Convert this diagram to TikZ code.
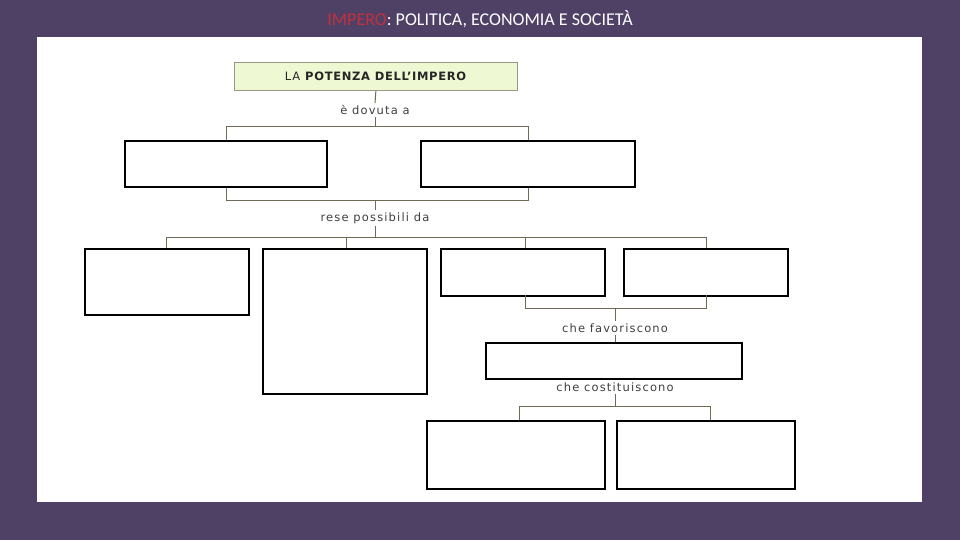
\documentclass[tikz,border=0pt]{standalone}
\usepackage{fontspec}
\setmainfont{DejaVu Sans}
\newfontfamily\spaced[LetterSpace=10]{DejaVu Sans}
\newfontfamily\spacedb[LetterSpace=6]{DejaVu Sans}
\newfontfamily\titlefont{Carlito}
\definecolor{bgpurple}{HTML}{4F4066}
\definecolor{titlered}{HTML}{C0313D}
\definecolor{boxgreen}{HTML}{EEF8D2}
\definecolor{linecol}{HTML}{6E6A55}
\begin{document}
\begin{tikzpicture}[x=1pt,y=-1pt,
  blank/.style={draw=black,line width=2pt,fill=white,anchor=north west,inner sep=0pt},
  conn/.style={draw=linecol,line width=1pt},
  lbl/.style={font=\spaced\fontsize{11.5}{13}\selectfont,text=black!75,inner sep=2pt}]
\useasboundingbox (0,0) rectangle (960,540);
\fill[bgpurple] (0,0) rectangle (960,540);
\fill[white] (37,37) rectangle (922,502);
\node[font=\titlefont\fontsize{18}{20}\selectfont,text=white] (title) at (480,19) {\textcolor{titlered}{IMPERO}: POLITICA, ECONOMIA E SOCIETÀ};
% top box
\node[draw=linecol!70,line width=0.8pt,fill=boxgreen,anchor=north west,minimum width=283pt,minimum height=28pt,inner sep=0pt,font=\spacedb\fontsize{11.5}{13}\selectfont,text=black!85] (top) at (234,62) {LA \textbf{POTENZA DELL’IMPERO}};
\node[lbl] (l1) at (375,110) {è dovuta a};
\coordinate (j1) at (375,127);
\node[blank,minimum width=202pt,minimum height=46pt] (A) at (124,140) {};
\node[blank,minimum width=214pt,minimum height=46pt] (B) at (420,140) {};
\draw[conn] (top.south) -- (l1.north);
\draw[conn] (l1.south) -- (j1);
\draw[conn] (A.north) -- (A.north |- j1) -- (B.north |- j1) -- (B.north);
% second level
\coordinate (j2) at (375,200);
\node[lbl] (l2) at (375,218) {rese possibili da};
\coordinate (j3) at (375,237);
\draw[conn] (A.south) -- (A.south |- j2) -- (B.south |- j2) -- (B.south);
\draw[conn] (j2) -- (l2.north);
\draw[conn] (l2.south) -- (j3);
\node[blank,minimum width=164pt,minimum height=66pt] (C) at (84,248) {};
\node[blank,minimum width=164pt,minimum height=145pt] (D) at (262,248) {};
\node[blank,minimum width=164pt,minimum height=47pt] (E) at (440,248) {};
\node[blank,minimum width=164pt,minimum height=47pt] (F) at (623,248) {};
\coordinate (cC) at (166,237);
\coordinate (cD) at (346,237);
\coordinate (cE) at (525,237);
\coordinate (cF) at (706,237);
\draw[conn] (cC) -- (cF);
\draw[conn] (cC) -- (cC |- C.north);
\draw[conn] (cD) -- (cD |- D.north);
\draw[conn] (cE) -- (cE |- E.north);
\draw[conn] (cF) -- (cF |- F.north);
% third level
\coordinate (eb) at (525,295);
\coordinate (fb) at (706,295);
\coordinate (j4) at (615,308);
\node[lbl] (l3) at (615,328) {che favoriscono};
\node[blank,minimum width=256pt,minimum height=36pt] (G) at (485,342) {};
\draw[conn] (eb) -- (eb |- j4) -- (fb |- j4) -- (fb);
\draw[conn] (j4) -- (l3.north);
\draw[conn] (l3.south) -- (l3.south |- G.north);
\node[lbl] (l4) at (615,387) {che costituiscono};
\coordinate (j5) at (615,406);
\node[blank,minimum width=178pt,minimum height=68pt] (H) at (426,420) {};
\node[blank,minimum width=178pt,minimum height=68pt] (I) at (616,420) {};
\coordinate (hc) at (519,406);
\coordinate (ic) at (710,406);
\draw[conn] (l4.south) -- (j5);
\draw[conn] (hc |- H.north) -- (hc) -- (ic) -- (ic |- I.north);
\end{tikzpicture}
\end{document}
